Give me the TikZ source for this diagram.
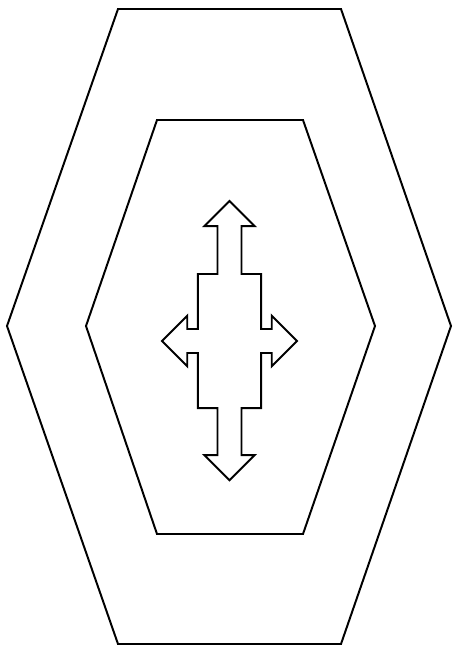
\documentclass[tikz,border=0pt]{standalone}
\usepackage{tikz}
\usetikzlibrary{shapes.arrows}
\tikzset{
    % outline styles
    hexwall/.style={draw=black,line width=1.4pt,line join=miter},
    crossarrow/.style={arrow box,draw=black,line width=1.4pt,inner sep=0pt,
        minimum width=1.583cm,minimum height=3.35cm,
        arrow box shaft width=0.6cm,arrow box head extend=0.33cm,
        arrow box tip angle=90,arrow box head indent=0cm}
}

\begin{document}
\begin{tikzpicture}[x=0.025cm,y=-0.025cm]
    \useasboundingbox (0,0) rectangle (457,653);
    % Outer hexagon
    \draw[hexwall] (7,326) -- (118,9) -- (341,9) -- (451,326) -- (341,644) -- (118,644) -- cycle;
    % Inner hexagon
    \draw[hexwall] (86,326) -- (157,120) -- (303,120) -- (375,326) -- (303,534) -- (157,534) -- cycle;
    % Four-way arrow in the middle
    \node[crossarrow,arrow box arrows={north:1.8cm from border,south:1.78cm from border,
        east:0.87cm from border,west:0.87cm from border}] (cross) at (229.5,341) {};
\end{tikzpicture}
\end{document}
